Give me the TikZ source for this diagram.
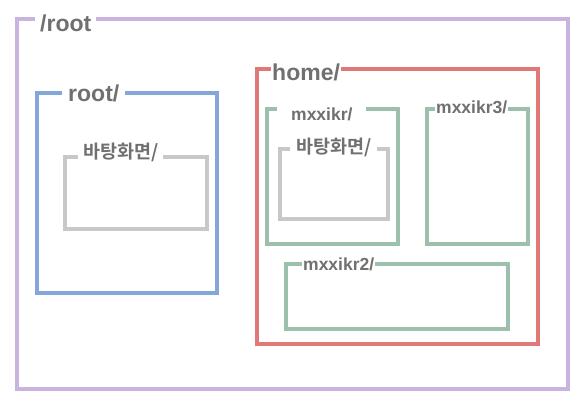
\documentclass[tikz,border=0pt]{standalone}
\usepackage{fontspec}
\setsansfont{Liberation Sans}
\newfontfamily\kofont{Noto Sans CJK KR}[BoldFont={Noto Sans CJK KR Bold}]
\usetikzlibrary{positioning}
\definecolor{rootline}{RGB}{200, 180, 222}
\definecolor{homeline}{RGB}{224, 120, 120}
\definecolor{userline}{RGB}{132, 166, 216}
\definecolor{subline}{RGB}{156, 192, 172}
\definecolor{deskline}{RGB}{200, 200, 200}
\definecolor{tagtext}{RGB}{112, 112, 112}

\begin{document}
\begin{tikzpicture}[x=1pt, y=-1pt,
    folder/.style={draw=#1, line width=3.2pt},
    tag/.style={fill=white, inner ysep=1pt, inner xsep=#1, anchor=base west,
        text=tagtext, font=\sffamily\bfseries\fontsize{23}{25}\selectfont},
    tag/.default=4pt,
    subtag/.style={tag=#1, font=\sffamily\bfseries\fontsize{17.5}{19}\selectfont},
    subtag/.default=1pt,
    desktag/.style={tag=#1, font=\kofont\bfseries\fontsize{18.5}{20}\selectfont},
    desktag/.default=5pt]
    \useasboundingbox (0,0) rectangle (581,404);
    % Folder frames
    \draw[folder=rootline] (17,19) rectangle (568,389);
    \draw[folder=userline] (37,93) rectangle (217,293);
    \draw[folder=deskline] (65,157) rectangle (207,229);
    \draw[folder=homeline] (257,69) rectangle (538,344);
    \draw[folder=subline] (267,109) rectangle (398,244);
    \draw[folder=deskline] (280,149) rectangle (388,219);
    \draw[folder=subline] (427,109) rectangle (528,244);
    \draw[folder=subline] (286,264) rectangle (508,329);

    % Folder names
    \node[tag=5pt] (slash) at (35,32) {/root};
    \node[tag=6pt] (rootdir) at (62,101) {root/};
    \node[desktag] (deskone) at (78,158) {바탕화면/};
    \node[tag=1pt] (homedir) at (271,81) {home/};
    \node[subtag=14pt] (userone) at (277,121) {mxxikr/};
    \node[desktag=6pt] (desktwo) at (290,153) {바탕화면/};
    \node[subtag] (userthree) at (435,113) {mxxikr3/};
    \node[subtag] (usertwo) at (302,270) {mxxikr2/};
\end{tikzpicture}
\end{document}
